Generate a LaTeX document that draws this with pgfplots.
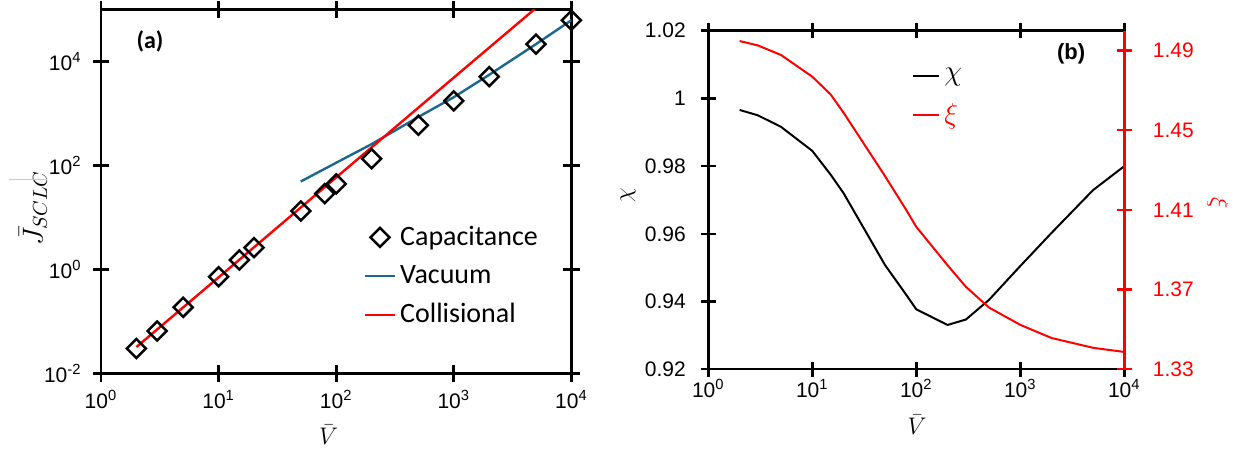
\documentclass[border=0pt]{standalone}
\usepackage{fontspec}
\setmainfont{Liberation Sans}
\newfontfamily\calib{Carlito}
\usepackage{pgfplots}
\pgfplotsset{compat=1.18}
\definecolor{vacblue}{RGB}{27,104,143}
\begin{document}
\begin{tikzpicture}
% ---------- panel (a) ----------
\begin{axis}[
  at={(50.5pt,39.85pt)}, anchor=south west,
  scale only axis, width=235.2pt, height=182pt,
  xmode=log, ymode=log,
  xmin=1, xmax=10000, ymin=0.01, ymax=100000,
  xtick={1,10,100,1000,10000},
  xticklabels={10\textsuperscript{0},10\textsuperscript{1},10\textsuperscript{2},10\textsuperscript{3},10\textsuperscript{4}},
  ytick={0.01,1,100,10000},
  yticklabels={10\textsuperscript{-2},10\textsuperscript{0},10\textsuperscript{2},10\textsuperscript{4}},
  xminorticks=false, yminorticks=false,
  tick align=center, major tick length=8.5pt,
  axis line style={line width=1.35pt},
  every tick/.style={black, line width=1.35pt},
  ticklabel style={font=\fontsize{10.5}{12}\selectfont},
  xticklabel style={yshift=-4pt, inner sep=0pt},
  yticklabel style={xshift=-2pt},
  xlabel={$\bar{V}$},
  xlabel style={at={(axis description cs:0.484,-0.17)}, anchor=center, inner sep=0pt, font=\fontsize{12}{14}\selectfont},
  ylabel={$\bar{J}_{SCLC}$},
  ylabel style={at={(axis description cs:-0.1446,0.454)}, anchor=center, font=\fontsize{14}{16}\selectfont},
  legend style={draw=none, fill=none, at={(axis description cs:0.545,0.267)}, anchor=west,
    font=\calib\fontsize{14}{16}\selectfont, row sep=4.5pt},
  legend cell align=left,
  legend image code/.code={\draw[mark repeat=2,mark phase=2,#1] plot coordinates {(0pt,0pt) (7.5pt,0pt) (15pt,0pt)};},
  clip=true,
]
\addplot[only marks, mark=square, mark size=3.36pt, mark options={rotate=45, line width=1.25pt, black, fill=none}]
  coordinates {(2,0.030) (3,0.065) (5,0.186) (10,0.72) (15,1.51) (20,2.6) (50,13.2) (80,28.5)
   (100,44) (200,134) (500,590) (1000,1730) (2000,5070) (5000,21300) (10000,61500)};
\addlegendentry{Capacitance}
\addplot[vacblue, line width=1.2pt, no marks]
  coordinates {(50,48.8) (100,112) (200,255) (500,850) (1000,2040) (2000,5500) (5000,21400) (10000,61700)};
\addlegendentry{Vacuum}
\addplot[red, line width=1.2pt, no marks]
  coordinates {(2,0.032) (10,0.70) (100,58.5) (1000,4860) (4850,100000)};
\addlegendentry{Collisional}
\node[font=\calib\bfseries\fontsize{12}{14}\selectfont] at (axis description cs:0.104,0.911) {(a)};
\end{axis}
\draw[gray!40, line width=0.5pt] (4.5pt,136.5pt) -- (23.5pt,136.5pt);
% ---------- panel (b), left axis ----------
\begin{axis}[
  at={(354.15pt,41.85pt)}, anchor=south west,
  scale only axis, width=208pt, height=169.3pt,
  xmode=log, xmin=1, xmax=10000, ymin=0.92, ymax=1.02,
  axis y line*=left,
  xtick={1,10,100,1000,10000},
  xticklabels={10\textsuperscript{0},10\textsuperscript{1},10\textsuperscript{2},10\textsuperscript{3},10\textsuperscript{4}},
  ytick={0.92,0.94,0.96,0.98,1,1.02},
  yticklabels={0.92,0.94,0.96,0.98,1,1.02},
  xminorticks=false, yminorticks=false,
  tick align=center, major tick length=7.5pt,
  axis line style={line width=1.2pt},
  every tick/.style={black, line width=1.2pt},
  ticklabel style={font=\fontsize{10.5}{12}\selectfont},
  xticklabel style={inner sep=0pt, yshift=-1pt},
  yticklabel style={xshift=-4pt},
  xlabel={$\bar{V}$},
  xlabel style={at={(axis description cs:0.502,-0.165)}, anchor=center, inner sep=0pt, font=\fontsize{12}{14}\selectfont},
  ylabel={$\chi$},
  ylabel style={at={(axis description cs:-0.193,0.515)}, anchor=center, font=\fontsize{12}{14}\selectfont},
  legend style={draw=none, fill=none, at={(axis description cs:0.475,0.8036)}, anchor=west,
    font=\fontsize{15}{17}\selectfont, row sep=6pt},
  legend cell align=left,
  legend image code/.code={\draw[#1] (0pt,0pt) -- (13pt,0pt);},
]
\addplot[black, line width=1pt, no marks]
  coordinates {(2,0.9966) (3,0.9950) (5,0.9916) (10,0.9845) (15,0.9775) (20,0.9720) (50,0.9508)
   (80,0.9420) (100,0.9377) (200,0.9331) (300,0.9347) (500,0.9405) (1000,0.9505) (2000,0.9603)
   (5000,0.9729) (10000,0.9800)};
\addlegendentry{$\chi$}
\addlegendimage{red, line width=1pt}
\addlegendentry{\textcolor{red}{$\xi$}}
\node[font=\bfseries\fontsize{11}{13}\selectfont] at (axis description cs:0.872,0.933) {(b)};
\end{axis}
% ---------- panel (b), right axis ----------
\begin{axis}[
  at={(354.15pt,41.85pt)}, anchor=south west,
  scale only axis, width=208pt, height=169.3pt,
  xmode=log, xmin=1, xmax=10000, ymin=1.33, ymax=1.50,
  axis y line*=right, axis x line=none,
  ytick={1.33,1.37,1.41,1.45,1.49},
  yticklabels={1.33,1.37,1.41,1.45,1.49},
  xminorticks=false, yminorticks=false,
  tick align=center, major tick length=7.5pt,
  y axis line style={red, line width=1.2pt},
  every tick/.style={red, line width=1.2pt},
  yticklabel style={red, font=\fontsize{10.5}{12}\selectfont, xshift=7pt},
  ylabel={$\xi$},
  ylabel style={red, at={(axis description cs:1.225,0.491)}, anchor=center, rotate=180, font=\fontsize{12}{14}\selectfont},
]
\addplot[red, line width=1pt, no marks]
  coordinates {(2,1.4948) (3,1.4926) (5,1.4878) (10,1.4769) (15,1.4680) (20,1.4588) (50,1.4270)
   (80,1.4100) (100,1.4015) (200,1.3822) (300,1.3714) (500,1.3610) (1000,1.3523) (2000,1.3457)
   (5000,1.3408) (10000,1.3387)};
\end{axis}
\pgfresetboundingbox
\useasboundingbox (0pt,0pt) rectangle (621pt,226.5pt);
\end{tikzpicture}
\end{document}
